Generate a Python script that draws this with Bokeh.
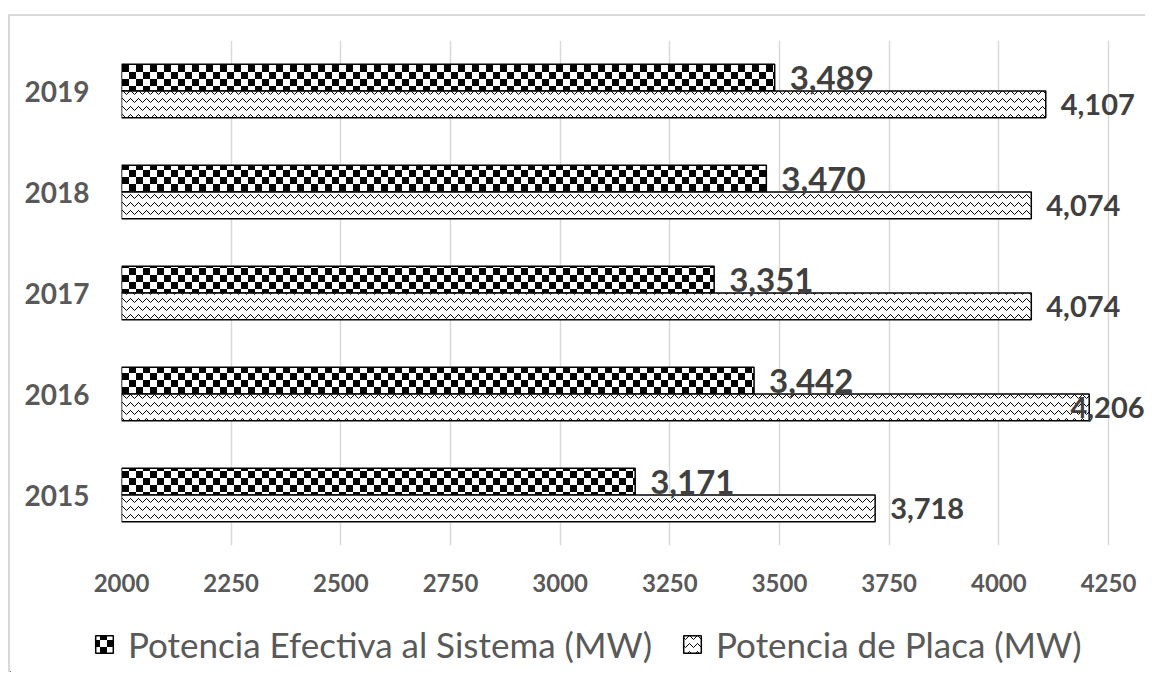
import zlib, struct, base64
from bokeh.plotting import figure
from bokeh.layouts import column
from bokeh.models import (ColumnDataSource, Range1d, FixedTicker, LabelSet,
                          Legend, LegendItem, ImageURLTexture)
from bokeh.core.properties import value
from bokeh.transform import dodge
from bokeh.embed import file_html
from bokeh.resources import INLINE

# ---- data ----
years = ["2015", "2016", "2017", "2018", "2019"]
efectiva = [3171, 3442, 3351, 3470, 3489]
placa = [3718, 4206, 4074, 4074, 4107]
x_ticks = [2000, 2250, 2500, 2750, 3000, 3250, 3500, 3750, 4000, 4250]
series_names = ["Potencia Efectiva al Sistema (MW)", "Potencia de Placa (MW)"]

# ---- layout (canvas pixels) ----
W, H = 1135, 600          # main chart canvas
HL = 56                   # legend strip height
LEFT, TICK_RIGHT = 111, 1098
TOP, BOTTOM = 24, 71
PPU = (TICK_RIGHT - LEFT) / (x_ticks[-1] - x_ticks[0])
X_END = x_ticks[-1] + (W - TICK_RIGHT) / PPU

LAB_OFF = 15
PL_LAB_W = 74


def fit_offset(v, w):
    end = (v - x_ticks[0]) * PPU
    room = (W - LEFT) - end - w - 1
    return LAB_OFF if room >= LAB_OFF else room


idx = list(range(len(years)))
src = ColumnDataSource(dict(
    idx=idx,
    ef=efectiva,
    pl=placa,
    base=[x_ticks[0]] * len(years),
    ef_lab=[f"{v:,}" for v in efectiva],
    pl_lab=[f"{v:,}" for v in placa],
    pl_off=[fit_offset(v, PL_LAB_W) for v in placa],
))


def checker_png(cell=7):
    n = cell * 2
    rows = []
    for yy in range(n):
        row = bytearray()
        for xx in range(n):
            on = (xx < cell) != (yy < cell)
            row += bytes([0, 0, 0, 255]) if on else bytes([255, 255, 255, 255])
        rows.append(b"\x00" + bytes(row))
    raw = b"".join(rows)

    def chunk(t, d):
        return (struct.pack(">I", len(d)) + t + d +
                struct.pack(">I", zlib.crc32(t + d) & 0xffffffff))
    data = (b"\x89PNG\r\n\x1a\n" +
            chunk(b"IHDR", struct.pack(">IIBBBBB", n, n, 8, 6, 0, 0, 0)) +
            chunk(b"IDAT", zlib.compress(raw)) + chunk(b"IEND", b""))
    return "data:image/png;base64," + base64.b64encode(data).decode()


BAR_H = 0.265
GREY = "#595959"
DARK = "#404040"

checker = ImageURLTexture(url=checker_png(7), repetition="repeat")
EF_STYLE = dict(fill_color="white", line_color="black", line_width=1.5,
                hatch_pattern=value("checker"), hatch_extra={"checker": checker},
                hatch_color="black")
PL_STYLE = dict(fill_color="white", line_color="black", line_width=1.5,
                hatch_pattern="horizontal_wave", hatch_color="black",
                hatch_scale=8, hatch_weight=1)

p = figure(width=W, height=H,
           x_range=Range1d(x_ticks[0], X_END),
           y_range=Range1d(-0.5, len(years) - 0.5),
           output_backend="svg", toolbar_location=None,
           min_border_left=LEFT, min_border_right=0,
           min_border_top=TOP, min_border_bottom=BOTTOM)
p.outline_line_color = None
p.background_fill_color = "white"
p.border_fill_color = "white"

p.hbar(y=dodge("idx", BAR_H / 2), height=BAR_H, left="base", right="ef",
       source=src, **EF_STYLE)
p.hbar(y=dodge("idx", -BAR_H / 2), height=BAR_H, left="base", right="pl",
       source=src, **PL_STYLE)

lab1 = LabelSet(x="ef", y=dodge("idx", BAR_H / 2), text="ef_lab", source=src,
                x_offset=LAB_OFF, text_align="left", text_baseline="middle",
                text_font=value("Lato"), text_font_style="bold",
                text_font_size="33px", text_color=DARK)
lab2 = LabelSet(x="pl", y=dodge("idx", -BAR_H / 2), text="pl_lab", source=src,
                x_offset="pl_off", text_align="left", text_baseline="middle",
                text_font=value("Lato"), text_font_style="bold",
                text_font_size="29px", text_color=DARK)
p.add_layout(lab1)
p.add_layout(lab2)

# axes
p.xaxis.ticker = FixedTicker(ticks=x_ticks)
p.xgrid.ticker = FixedTicker(ticks=x_ticks)
p.xgrid.grid_line_color = "#d9d9d9"
p.xgrid.grid_line_width = 1.5
p.ygrid.grid_line_color = None
p.xaxis.axis_line_color = None
p.xaxis.major_tick_line_color = None
p.xaxis.minor_tick_line_color = None
p.xaxis.major_tick_out = 0
p.xaxis.major_label_standoff = 28
p.xaxis.major_label_text_font = "Lato"
p.xaxis.major_label_text_font_style = "bold"
p.xaxis.major_label_text_font_size = "24px"
p.xaxis.major_label_text_color = GREY

p.yaxis.ticker = FixedTicker(ticks=idx)
p.yaxis.major_label_overrides = {i: y for i, y in zip(idx, years)}
p.yaxis.axis_line_color = None
p.yaxis.major_tick_line_color = None
p.yaxis.minor_tick_line_color = None
p.yaxis.major_tick_out = 0
p.yaxis.major_label_standoff = 32
p.yaxis.major_label_text_font = "Lato"
p.yaxis.major_label_text_font_style = "bold"
p.yaxis.major_label_text_font_size = "28px"
p.yaxis.major_label_text_color = GREY

# ---- legend strip (proxy renderers use the same data, kept far off-view) ----
lf = figure(width=W, height=HL, output_backend="svg", toolbar_location=None,
            min_border=0, x_range=Range1d(1e6, 1e6 + 1),
            y_range=Range1d(1e6, 1e6 + 1))
if "frame_align" in lf.properties():
    lf.frame_align = False
    p.frame_align = False
lf.axis.visible = False
lf.grid.visible = False
lf.outline_line_color = None
lf.background_fill_color = "white"
lf.border_fill_color = "white"
e1 = lf.hbar(y="idx", height=BAR_H, left="base", right="ef", source=src,
             **EF_STYLE)
e2 = lf.hbar(y="idx", height=BAR_H, left="base", right="pl", source=src,
             **PL_STYLE)
legend = Legend(items=[LegendItem(label=series_names[0], renderers=[e1]),
                       LegendItem(label=series_names[1], renderers=[e2])],
                orientation="horizontal", location="left",
                glyph_width=22, glyph_height=22, label_height=22,
                label_standoff=13, spacing=29,
                label_text_font="Lato", label_text_font_size="35px",
                label_text_color=GREY, border_line_color=None,
                background_fill_alpha=0, padding=0, margin=83)
lf.add_layout(legend)

layout = column(p, lf, spacing=0)
layout.styles = {"margin-left": "8px", "margin-top": "14px",
                 "border-left": "2px solid #d9d9d9",
                 "border-top": "2px solid #d9d9d9"}

open("out.html", "w").write(file_html(layout, INLINE))
